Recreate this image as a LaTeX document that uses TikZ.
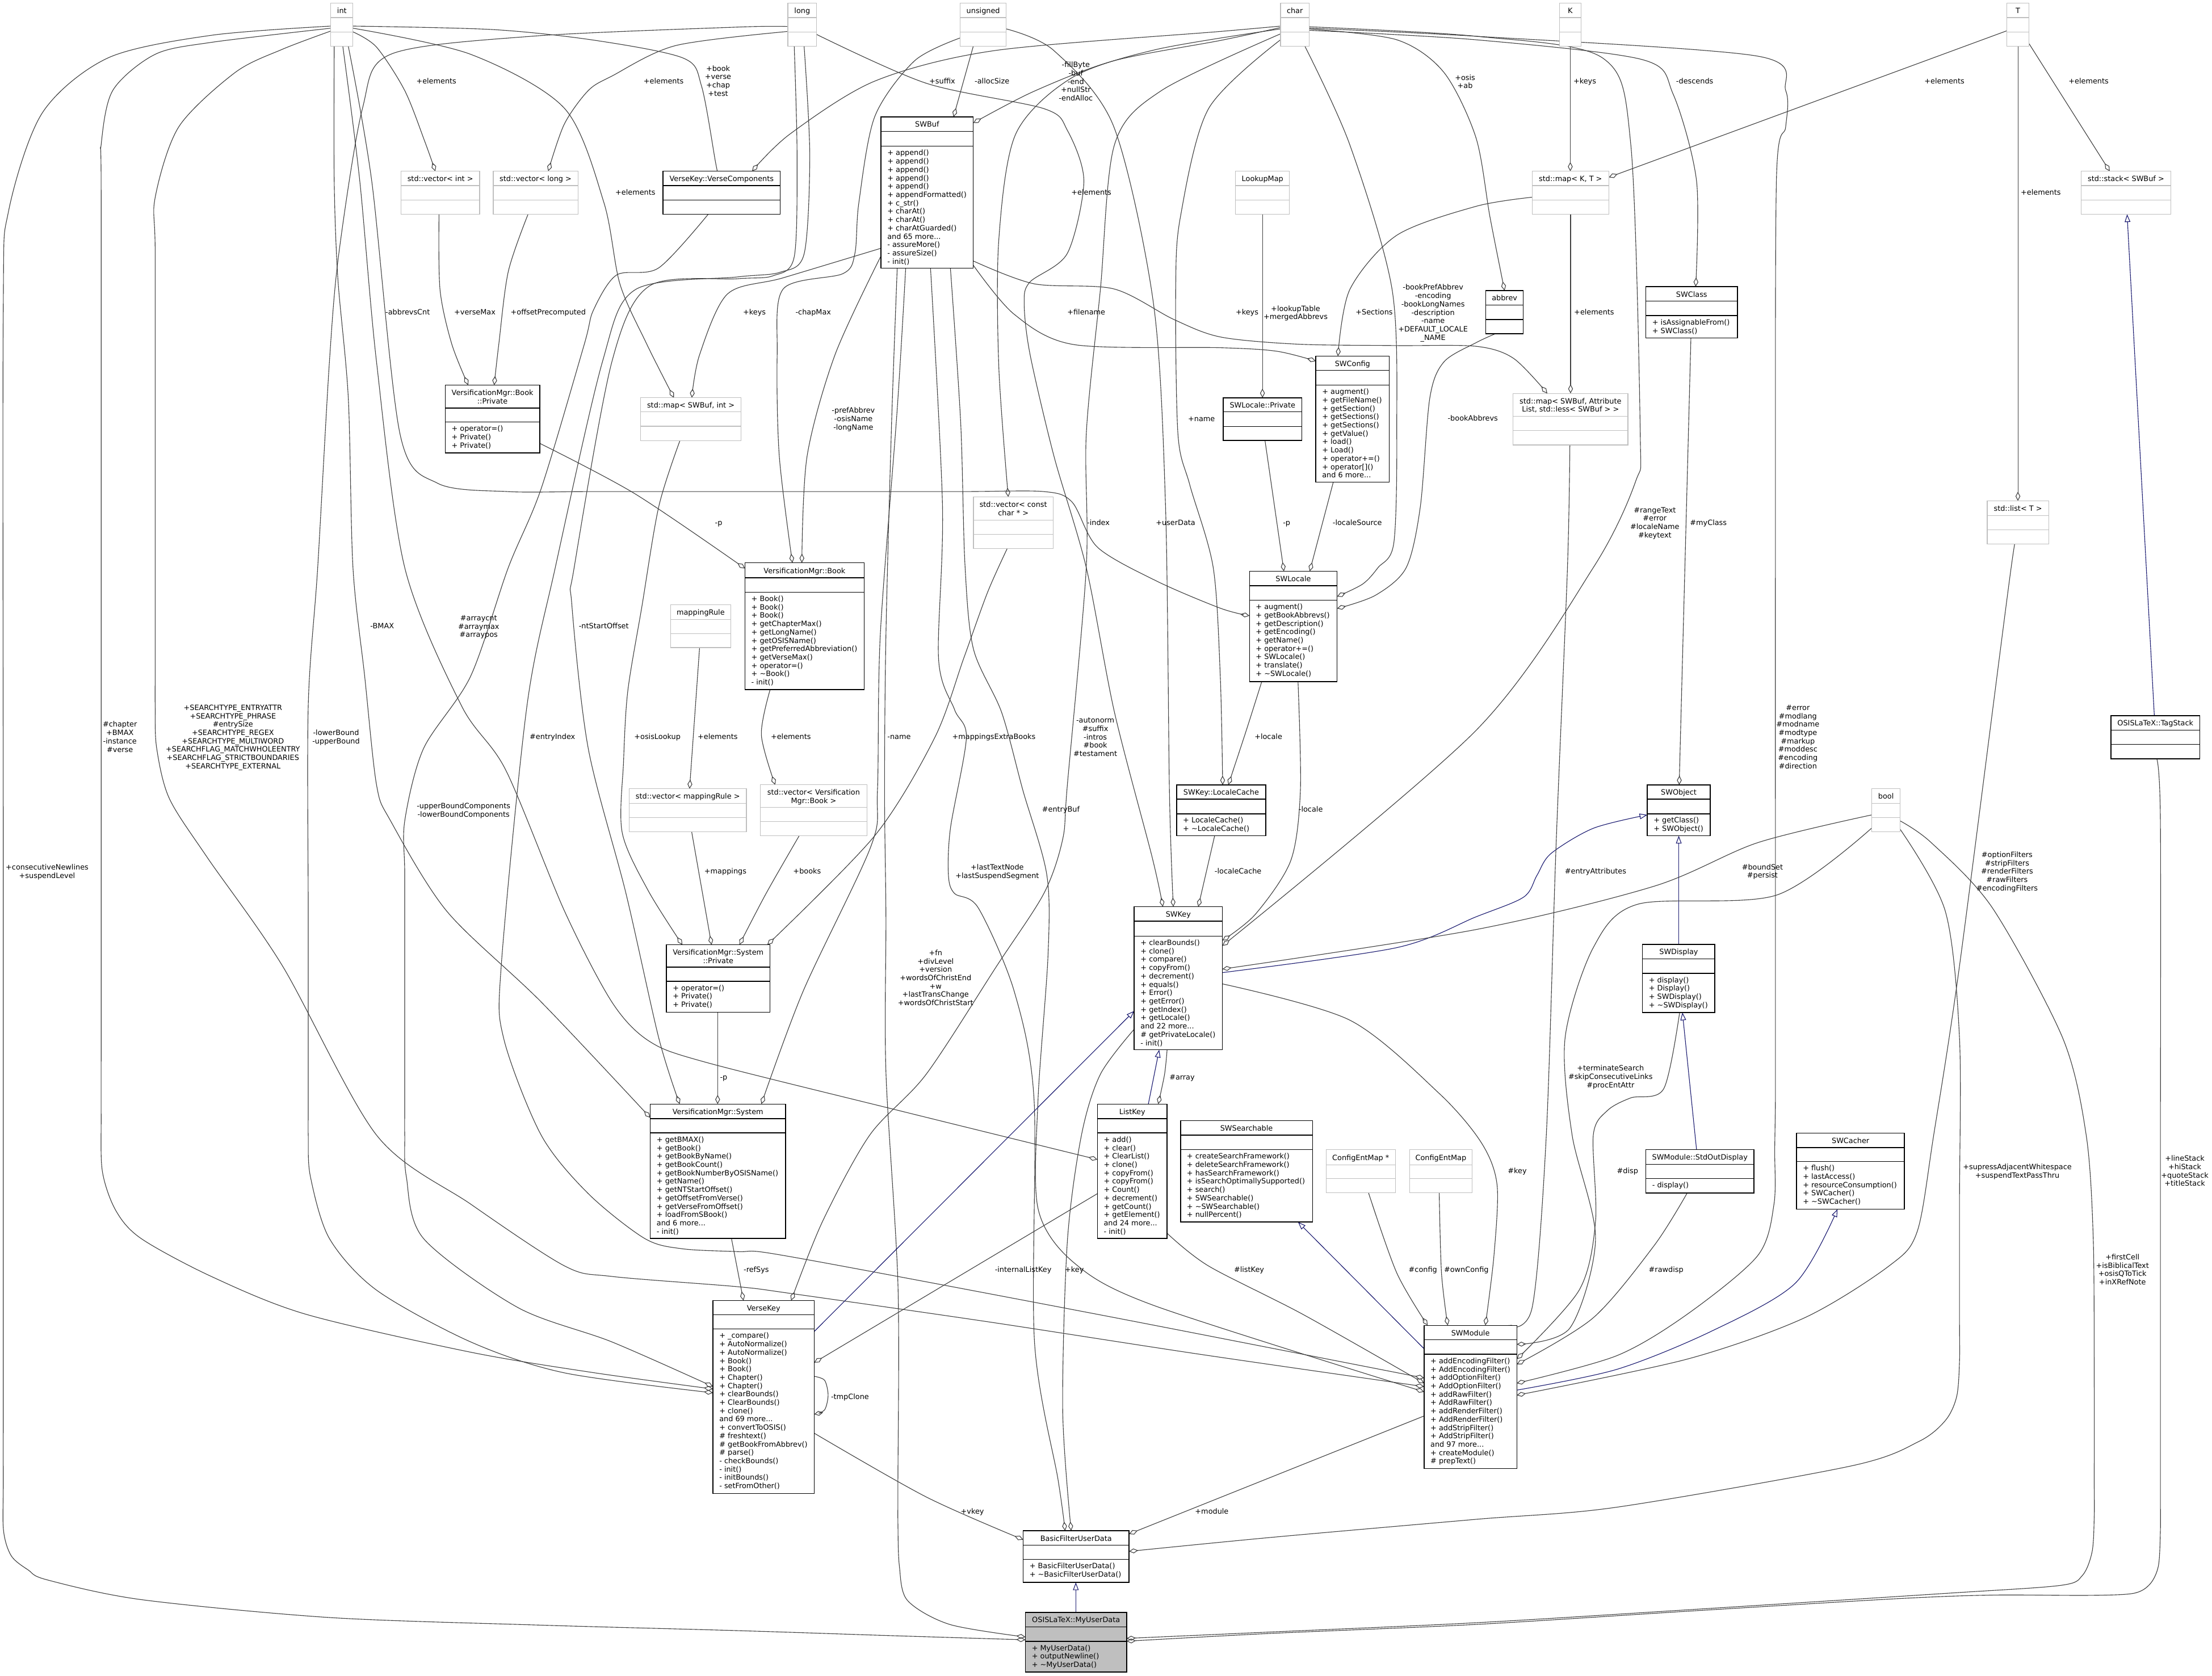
\documentclass[tikz,border=0pt]{standalone}
\usepackage{fontspec}
\setmainfont{DejaVu Sans}
\usetikzlibrary{arrows.meta}
\definecolor{edgec}{HTML}{404040}
\definecolor{inhc}{HTML}{191970}
\definecolor{grayb}{HTML}{BFBFBF}
\newcommand\dfont{\fontsize{5.17pt}{5.92pt}\selectfont}
\newcommand\strt{\vrule width0pt height4.5pt depth0pt\relax}
\pgfdeclarelayer{edges}
\pgfsetlayers{edges,main}
\tikzset{
  grayc/.style={draw=grayb, line width=0.5pt, fill=white, inner sep=0pt, outer sep=0pt},
  blackc/.style={draw=black, line width=0.6pt, fill=white, inner sep=0pt, outer sep=0pt},
  filledc/.style={draw=black, line width=0.6pt, fill=grayb, inner sep=0pt, outer sep=0pt},
  grayc line/.style={draw=grayb, line width=0.5pt},
  blackc line/.style={draw=black, line width=0.6pt},
  filledc line/.style={draw=black, line width=0.6pt},
  ttl/.style={font=\dfont, inner sep=0pt, align=center},
  mth/.style={font=\dfont, inner sep=0pt, align=left},
  lbl/.style={font=\dfont, inner sep=0pt, align=center},
  edge/.style={draw=edgec, line width=0.45pt},
  agg/.style={edge, -{Diamond[open, length=6.5pt, width=3.4pt, line width=0.45pt]}},
  inh/.style={draw=inhc, line width=0.45pt, -{Triangle[open, length=5.5pt, width=4pt, line width=0.45pt]}},
  every plot/.style={smooth, tension=0.5},
}
\makeatletter
\def\ub@parse#1/#2/#3/#4/#5/#6/#7\relax{\def\ubxa{#1}\def\ubya{#2}\def\ubxb{#3}\def\ubsa{#4}\def\ubsb{#5}\def\ubyb{#6}\def\ubn{#7}}
\newcommand\ubox[5]{%
  \ub@parse#3\relax
  \pgfmathsetmacro\ubw{\ubxb-\ubxa}%
  \pgfmathsetmacro\ubh{\ubyb-\ubya}%
  \pgfmathsetmacro\ubcx{(\ubxa+\ubxb)/2}%
  \pgfmathsetmacro\ubty{(\ubya+\ubsa)/2-2.6-(\ubn-1)*2.96}%
  \pgfmathsetmacro\ubmy{\ubsb+1.8}%
  \pgfmathsetmacro\ubmx{\ubxa+4.3}%
  \node[#1, anchor=north west, minimum width=\ubw pt, minimum height=\ubh pt] (#2) at (\ubxa,\ubya) {};
  \draw[#1 line] (\ubxa,\ubsa) -- (\ubxb,\ubsa) (\ubxa,\ubsb) -- (\ubxb,\ubsb);
  \node[ttl, anchor=north] (#2-t) at (\ubcx,\ubty) {\strt #4};
  \node[mth, anchor=north west] (#2-m) at (\ubmx,\ubmy) {\strt #5};
}
\makeatother
\newcommand\lab[4]{\node[lbl, anchor=north] (#1) at (#2,{#3-2.6}) {\strt #4};}
\begin{document}
\begin{tikzpicture}[x=1pt,y=-1pt]
\useasboundingbox (0,0) rectangle (1568,1188);
% ---------- boxes ----------
\ubox{grayc}{int}{234.5/2.3/250.2/12.5/22.6/32.8/1}{int}{}
\ubox{grayc}{long}{558.5/2.3/578.8/12.5/22.6/32.8/1}{long}{}
\ubox{grayc}{unsigned}{680.6/2.3/713.3/12.5/22.6/32.8/1}{unsigned}{}
\ubox{grayc}{char}{907.7/2.3/928/12.5/22.6/32.8/1}{char}{}
\ubox{grayc}{K}{1105.4/2.3/1120.8/12.5/22.6/32.8/1}{K}{}
\ubox{grayc}{T}{1422.6/2.3/1438.2/12.5/22.6/32.8/1}{T}{}
\ubox{grayc}{vint}{284.2/121.4/340/131.6/141.9/151.9/1}{std::vector< int >}{}
\ubox{grayc}{vlong}{349.6/121.4/409.7/131.6/141.9/151.9/1}{std::vector< long >}{}
\ubox{blackc}{vcomp}{470/121.4/553.1/131.6/141.9/151.9/1}{VerseKey::VerseComponents}{}
\ubox{grayc}{lookup}{875.8/121.4/914.1/131.6/141.9/151.9/1}{LookupMap}{}
\ubox{grayc}{mapKT}{1086.1/121.4/1140.4/131.6/141.9/151.9/1}{std::map< K, T >}{}
\ubox{grayc}{stack}{1475.2/121.4/1538.8/131.6/141.9/151.9/1}{std::stack< SWBuf >}{}
\ubox{blackc}{swbuf}{624.5/82.9/689.9/93.1/103.7/190.1/1}{SWBuf}{+ append()\\+ append()\\+ append()\\+ append()\\+ append()\\+ appendFormatted()\\+ c\_str()\\+ charAt()\\+ charAt()\\+ charAtGuarded()\\and 65 more...\\- assureMore()\\- assureSize()\\- init()}
\ubox{blackc}{abbrev}{1053.2/206/1079.8/216.3/226.6/236.6/1}{abbrev}{}
\ubox{blackc}{swclass}{1166.7/203.2/1231.6/213.5/223.8/239.7/1}{SWClass}{+ isAssignableFrom()\\+ SWClass()}
\ubox{blackc}{swconfig}{932.7/252.5/984.8/262.5/273/341.8/1}{SWConfig}{+ augment()\\+ getFileName()\\+ getSection()\\+ getSections()\\+ getSections()\\+ getValue()\\+ load()\\+ Load()\\+ operator+=()\\+ operator[]()\\and 6 more...}
\ubox{blackc}{bookpriv}{315.6/273/382.6/289.2/299.2/321/2}{VersificationMgr::Book\\::Private}{+ operator=()\\+ Private()\\+ Private()}
\ubox{grayc}{mapSI}{454/282/525.4/292/302.2/312.3/1}{std::map< SWBuf, int >}{}
\ubox{blackc}{locpriv}{867.1/282/922.8/292/302.3/312.3/1}{SWLocale::Private}{}
\ubox{grayc}{mapAttr}{1072.5/278.9/1154/295.1/305.3/315.4/2}{std::map< SWBuf, Attribute\\List, std::less< SWBuf > >}{}
\ubox{grayc}{vcchar}{690/352.3/746.6/368.7/378.7/388.8/2}{std::vector< const\\char * >}{}
\ubox{grayc}{listT}{1408.6/355.1/1452.2/365.4/375.7/385.7/1}{std::list< T >}{}
\ubox{blackc}{book}{528.1/399/612.5/409.6/419.8/488.9/1}{VersificationMgr::Book}{+ Book()\\+ Book()\\+ Book()\\+ getChapterMax()\\+ getLongName()\\+ getOSISName()\\+ getPreferredAbbreviation()\\+ getVerseMax()\\+ operator=()\\+ \textasciitilde{}Book()\\- init()}
\ubox{blackc}{swlocale}{885.7/405/947.8/415.2/425.5/483.2/1}{SWLocale}{+ augment()\\+ getBookAbbrevs()\\+ getDescription()\\+ getEncoding()\\+ getName()\\+ operator+=()\\+ SWLocale()\\+ translate()\\+ \textasciitilde{}SWLocale()}
\ubox{grayc}{maprule}{475.3/428.8/518/439.1/449.1/459.1/1}{mappingRule}{}
\ubox{blackc}{tagstack}{1496.4/507.4/1559.3/517.6/527.6/537.9/1}{OSISLaTeX::TagStack}{}
\ubox{grayc}{vbook}{539/556.4/614.5/572.5/582.5/592.5/2}{std::vector< Versification\\Mgr::Book >}{}
\ubox{blackc}{loccache}{834.1/556.4/897.2/566.6/576.9/592.5/1}{SWKey::LocaleCache}{+ LocaleCache()\\+ \textasciitilde{}LocaleCache()}
\ubox{blackc}{swobject}{1167.7/556.4/1212.3/566.6/576.9/592.5/1}{SWObject}{+ getClass()\\+ SWObject()}
\ubox{grayc}{bool}{1326.8/559.2/1347/569.4/579.5/589.7/1}{bool}{}
\ubox{grayc}{vrule}{446/559.2/529.1/569.4/579.5/589.7/1}{std::vector< mappingRule >}{}
\ubox{blackc}{swkey}{804/642.8/866.5/653.1/663.6/744.2/1}{SWKey}{+ clearBounds()\\+ clone()\\+ compare()\\+ copyFrom()\\+ decrement()\\+ equals()\\+ Error()\\+ getError()\\+ getIndex()\\+ getLocale()\\and 22 more...\\\# getPrivateLocale()\\- init()}
\ubox{blackc}{syspriv}{472.4/669.8/545.8/685.7/695.7/717.5/2}{VersificationMgr::System\\::Private}{+ operator=()\\+ Private()\\+ Private()}
\ubox{blackc}{swdisplay}{1164.3/669.5/1215.6/679.8/690/717.8/1}{SWDisplay}{+ display()\\+ Display()\\+ SWDisplay()\\+ \textasciitilde{}SWDisplay()}
\ubox{blackc}{system}{461/782.7/556.8/793/803.2/878/1}{VersificationMgr::System}{+ getBMAX()\\+ getBook()\\+ getBookByName()\\+ getBookCount()\\+ getBookNumberByOSISName()\\+ getName()\\+ getNTStartOffset()\\+ getOffsetFromVerse()\\+ getVerseFromOffset()\\+ loadFromSBook()\\and 6 more...\\- init()}
\ubox{blackc}{listkey}{777.9/782.7/827.3/793/803.2/878/1}{ListKey}{+ add()\\+ clear()\\+ ClearList()\\+ clone()\\+ copyFrom()\\+ copyFrom()\\+ Count()\\+ decrement()\\+ getCount()\\+ getElement()\\and 24 more...\\- init()}
\ubox{blackc}{swsearch}{836.8/794.5/930.4/804.7/815/866.3/1}{SWSearchable}{+ createSearchFramework()\\+ deleteSearchFramework()\\+ hasSearchFramework()\\+ isSearchOptimallySupported()\\+ search()\\+ SWSearchable()\\+ \textasciitilde{}SWSearchable()\\+ nullPercent()}
\ubox{blackc}{swcacher}{1273.5/803.3/1350/813.5/823.5/857.2/1}{SWCacher}{+ flush()\\+ lastAccess()\\+ resourceConsumption()\\+ SWCacher()\\+ \textasciitilde{}SWCacher()}
\ubox{grayc}{cemp}{940/815/989.1/825.7/835.5/845.7/1}{ConfigEntMap *}{}
\ubox{grayc}{cem}{999.2/815/1043.5/825.7/835.5/845.7/1}{ConfigEntMap}{}
\ubox{blackc}{stdout}{1166.7/815/1243.2/825.5/835.5/845.7/1}{SWModule::StdOutDisplay}{- display()}
\ubox{blackc}{versekey}{505.4/922/577.1/932/942.2/1058.8/1}{VerseKey}{+ \_compare()\\+ AutoNormalize()\\+ AutoNormalize()\\+ Book()\\+ Book()\\+ Chapter()\\+ Chapter()\\+ clearBounds()\\+ ClearBounds()\\+ clone()\\and 69 more...\\+ convertToOSIS()\\\# freshtext()\\\# getBookFromAbbrev()\\\# parse()\\- checkBounds()\\- init()\\- initBounds()\\- setFromOther()}
\ubox{blackc}{swmodule}{1009.5/939.6/1075.2/949.8/960.1/1041/1}{SWModule}{+ addEncodingFilter()\\+ AddEncodingFilter()\\+ addOptionFilter()\\+ AddOptionFilter()\\+ addRawFilter()\\+ AddRawFilter()\\+ addRenderFilter()\\+ AddRenderFilter()\\+ addStripFilter()\\+ AddStripFilter()\\and 97 more...\\+ createModule()\\\# prepText()}
\ubox{blackc}{bfud}{725.3/1085.2/800.3/1095.4/1105.4/1121.8/1}{BasicFilterUserData}{+ BasicFilterUserData()\\+ \textasciitilde{}BasicFilterUserData()}
\ubox{filledc}{myud}{726.9/1143.1/798.6/1153.3/1163.6/1185.3/1}{OSISLaTeX::MyUserData}{+ MyUserData()\\+ outputNewline()\\+ \textasciitilde{}MyUserData()}
% ---------- edges ----------
\begin{pgfonlayer}{edges}
\fill[white] (0,0) rectangle (1568,1188);
% int
\draw[agg] plot coordinates {(int.west |- 0,18.5) (150,25) (76.7,41) (30,80) (6,150) (2.3,220) (2.3,600) (2.3,950) (2.3,1050) (2.5,1085) (8,1103) (20,1113) (33.4,1120) (100,1134) (233.5,1146.7) (380,1152) (523,1156) (630,1159.5) (myud.west |- 0,1162.5)};
\draw[agg] plot coordinates {(int.west |- 0,20) (150,30) (110,38.5) (80,64) (71.7,102.6) (71.7,140) (71.7,500) (71.7,740) (71.7,790) (72.5,830) (82,858) (100,878) (150,905) (216.8,931.7) (333.6,958.6) (420,973) (versekey.west |- 0,984.7)};
\draw[agg] plot coordinates {(int.west |- 0,22) (200,35) (166.8,51.3) (126.8,89.8) (110,140) (110,180) (110,340) (110,470) (110,500) (111,530) (120,566) (146.8,607.7) (200.2,684.7) (266.9,804.7) (333.6,853.6) (400.3,897.5) (433.7,904.9) (523.1,912.2) (561.5,917.1) (700,937) (850,960) (swmodule.west |- 0,983)};
\draw[agg] plot coordinates {(int.east |- 0,22.6) (266.9,33.4) (286.9,64.2) (301,100) (vint.north -| 308.6,0)};
\draw[agg] plot coordinates {(int.east |- 0,18.5) (350,21) (422.5,28.7) (484.6,41.3) (497.3,61.1) (507.2,115) (vcomp.north -| 508.7,0)};
\draw[agg] plot coordinates {(int.east |- 0,20) (333.6,38.5) (400.3,77) (428.1,143.7) (439.4,201.2) (458,243) (mapSI.north -| 477.7,0)};
\draw[agg] plot coordinates {(int.south -| 246.9,0) (263.5,128.3) (283.6,307.9) (310.2,342.6) (360,348.5) (420,348.5) (550,348.5) (680,348.5) (740,348.5) (760,356) (778,388) (820,412) (865.1,431.2) (swlocale.west |- 0,436.5)};
\draw[agg] plot coordinates {(int.south -| 236.9,0) (236.9,128.3) (239.5,197.6) (246.9,282.3) (250.2,402.4) (258.5,479.4) (266.9,556.4) (276.9,582) (316.9,646.2) (383.6,710.3) (system.west |- 0,792.4)};
\draw[agg] plot coordinates {(int.south -| 243,0) (255,128) (266.9,256.6) (286.9,402.4) (326.9,499.9) (358.6,546.1) (400.3,646.2) (433.7,710.3) (460,738) (500,753) (640,788) (listkey.west |- 0,822)};
% long
\draw[agg] plot coordinates {(long.west |- 0,22.3) (479,32.3) (433.8,53.9) (417,64.2) (400,88) (vlong.north -| 388.6,0)};
\draw[agg] plot coordinates {(long.west |- 0,18.8) (523,19.2) (377,25.7) (276.9,38.5) (256.9,77) (240.2,179.6) (233.5,256.6) (225.2,402.4) (218.5,500) (218.5,650) (218.5,780) (218.5,805) (220,834) (233.5,878) (266.9,914.6) (333.6,951.3) (400.3,973.3) (versekey.west |- 0,987.4)};
\draw[agg] plot coordinates {(long.east |- 0,24.4) (656.5,59) (739.9,77) (756.6,92.4) (768.3,128.3) (756.6,179.6) (729.9,200.1) (726,215.6) (730.2,251.5) (747.1,323.4) (770,402.4) (790,505) (816.7,607.7) (swkey.north -| 824.3,0)};
\draw[agg] plot coordinates {(long.south -| 563,0) (565,110) (563,182) (548,195.5) (523,197.6) (460.4,202.7) (433.7,256.6) (407,402.4) (405.3,428.1) (417,530.7) (443.7,633.3) (467,736) (system.north -| 481.8,0)};
\draw[agg] plot coordinates {(long.south -| 570,0) (574,110) (570,180) (553,193) (523,196.3) (450.4,205.3) (427,256.6) (393.6,402.4) (373.6,499.9) (355.3,684.7) (357,736) (383.6,804.7) (417,846.2) (457,878) (483.7,885.3) (523.1,887.3) (543,888) (623,902.4) (800,936) (swmodule.west |- 0,976.9)};
% unsigned
\draw[agg] (unsigned.south -| 689.9,0) -- (swbuf.north -| 675.9,0);
\draw[agg] plot coordinates {(unsigned.east |- 0,20.5) (747.1,35.9) (789.5,89.8) (817.7,215.6) (826.2,359.3) (829,563.4) (swkey.north -| 831.7,0)};
\draw[agg] plot coordinates {(unsigned.west |- 0,26.9) (648.3,43.1) (620.1,82.6) (608.8,143.7) (606,179.6) (597.5,194) (555.2,204.8) (550.9,251.5) (552.4,323.4) (book.north -| 561.7,0)};
% char
\draw[agg] plot coordinates {(char.west |- 0,18.5) (865,22.3) (704.8,35.9) (620.1,57.5) (560,95) (vcomp.north -| 533.1,0)};
\draw[agg] plot coordinates {(char.west |- 0,19.5) (865,28.7) (789.5,43.1) (733,64.7) (swbuf.east |- 0,87.2)};
\draw[agg] plot coordinates {(char.west |- 0,20.5) (820,35) (760,55) (720,95) (708,170) (708,260) (vcchar.north -| 714.7,0)};
\draw[agg] plot coordinates {(char.east |- 0,19) (1046.2,25.7) (1136,41.1) (1156,102.6) (1162.7,307.9) (1159.4,341.3) (1129.4,402.4) (1046.2,517.9) (swkey.east |- 0,670.5)};
\draw[agg] plot coordinates {(char.west |- 0,28.2) (856.7,77) (836.7,154) (833.4,205.3) (835,307.9) (843.4,343.8) (860,402.4) (865,479.4) (loccache.north -| 866.7,0)};
\draw[agg] plot coordinates {(char.south -| 925,0) (956.8,102.6) (986.8,205.3) (990.1,307.9) (988,385) (976.8,402.4) (966,414) (swlocale.east |- 0,422.9)};
\draw[agg] plot coordinates {(abbrev.south -| 1060,0) (1046.2,243) (1023.5,256.6) (1013.5,282.3) (1006.8,359.2) (996.8,402.4) (975,422) (swlocale.east |- 0,431.4)};
\draw[agg] plot coordinates {(char.east |- 0,20.5) (990.1,28.2) (1023.5,51.3) (1046.2,97.5) (1056.2,154) (abbrev.north -| 1066.5,0)};
\draw[agg] plot coordinates {(char.east |- 0,21.5) (1046.2,28.2) (1164.3,42.3) (1186,66.7) (1202.6,128.3) (swclass.north -| 1202,0)};
\draw[agg] plot coordinates {(char.east |- 0,20) (1046.2,25.7) (1245.9,39.8) (1265.8,64.2) (1265.8,89.8) (1259.2,128.3) (1258.5,402.4) (1258.5,600) (1258.5,740) (1258.5,780) (1258,815) (1257.5,853.6) (1245.9,890.2) (1196,931.7) (1146,961.1) (swmodule.east |- 0,980.6)};
\draw[agg] plot coordinates {(char.west |- 0,24) (823.3,64.2) (790,102.6) (780,205.3) (770,307.9) (770,402.4) (756.6,556.4) (753.3,594.9) (740,633.3) (706.6,684.7) (656.5,761.6) (616.5,804.7) (583.1,865.8) (versekey.north -| 560.8,0)};
% SWBuf
\draw[agg] plot coordinates {(swbuf.south -| 636,0) (632,300) (628,450) (627,560) (628,650) (628,760) (636.5,910) (636.5,1050) (636.5,1080) (637.5,1110) (643.2,1134.5) (673.2,1151.6) (myud.west |- 0,1160.5)};
\draw[agg] plot coordinates {(swbuf.south -| 642,0) (636,290) (624,450) (622,560) (617.3,600.1) (569.3,702.7) (system.north -| 539.7,0)};
\draw[agg] plot coordinates {(swbuf.south -| 659.6,0) (668.1,359.3) (665.3,467.1) (676.6,503) (685,523.1) (673.7,587.3) (672.3,620.6) (676.6,633.4) (693.5,643.7) (718.9,702.7) (733,779.7) (733.3,951.3) (750,1049) (bfud.north -| 755,0)};
\draw[agg] plot coordinates {(swbuf.south -| 673.7,0) (681,300) (684,400) (690,460) (710,505) (725,560) (742,620) (742.9,677.1) (735.8,779.7) (735.8,856.7) (761.3,895.2) (817.7,925.4) (swmodule.west |- 0,986.7)};
\draw[agg] plot coordinates {(swbuf.east |- 0,188) (718.9,222.8) (761.3,244.3) (865.1,246.5) (905,249) (swconfig.west |- 0,256)};
\draw[agg] plot coordinates {(swbuf.east |- 0,185) (733,201.2) (789.5,204.8) (831.9,226.4) (865.1,238.9) (920,244) (990,245) (1046.2,245.5) (1072.8,254) (mapAttr.north -| 1096.8,0)};
\draw[agg] plot coordinates {(swbuf.west |- 0,176) (555,197) (515.7,208.4) (495.9,251.5) (mapSI.north -| 490.4,0)};
\draw[agg] plot coordinates {(swbuf.west |- 0,181.4) (591.9,251.5) (572.1,323.4) (book.north -| 568.4,0)};
% top misc
\draw[agg] (lookup.south -| 894.9,0) -- (locpriv.north -| 894.9,0);
\draw[agg] plot coordinates {(mapKT.west |- 0,139.8) (1046.2,146.3) (990.1,166.8) (956.8,205.3) (swconfig.north -| 948.4,0)};
\draw[agg] (mapKT.south -| 1113.3,0) -- (mapAttr.north -| 1113.3,0);
\draw[agg] (K.south -| 1113.1,0) -- (mapKT.north -| 1113.1,0);
\draw[agg] (T.west |- 0,21.8) -- (mapKT.east |- 0,125.7);
\draw[agg] (T.east |- 0,30.8) -- (stack.north -| 1495.5,0);
\draw[agg] (T.south -| 1430.4,0) -- (listT.north -| 1430.4,0);
\draw[inh] (tagstack.north -| 1527.1,0) -- (stack.south -| 1507.8,0);
\draw[agg] (swclass.south -| 1198.6,0) -- (swobject.north -| 1190.3,0);
\draw[inh] plot coordinates {(swkey.east |- 0,689.5) (990.1,671.8) (1046.2,650) (1080,636) (1089.5,620.5) (1099.4,605.1) (1129.4,587.2) (swobject.west |- 0,577.7)};
\draw[inh] (swdisplay.north -| 1190,0) -- (swobject.south -| 1190,0);
\draw[inh] (stdout.north -| 1202.6,0) -- (swdisplay.south -| 1192.6,0);
% bool, tagstack, list
\draw[agg] plot coordinates {(bool.west |- 0,577.7) (1245.9,597.4) (1172.7,628.2) (1046.2,659) (swkey.east |- 0,687)};
\draw[agg] plot coordinates {(bool.west |- 0,587) (1259.2,634.6) (1161,641) (1129.4,671.8) (1109.4,735.9) (1114.4,804.7) (1131,878) (1112.8,941.5) (swmodule.east |- 0,953)};
\draw[agg] plot coordinates {(bool.east |- 0,588) (1379,646.2) (1389,736) (1389,850) (1389,935) (1389,965) (1387,990) (1379,1007) (1360,1022) (1312.4,1039.2) (1146,1068.5) (1046.2,1077.1) (900,1090) (bfud.east |- 0,1099.8)};
\draw[agg] plot coordinates {(bool.east |- 0,582) (1369,597.4) (1412.3,643.6) (1462.2,736) (1478.8,804.7) (1483.8,878) (1484.5,980) (1484.5,1050) (1484.5,1075) (1483,1100) (1476,1117) (1460,1124) (1379,1129.6) (1200,1141) (1046.2,1150.4) (900,1157) (myud.east |- 0,1161.5)};
\draw[agg] plot coordinates {(tagstack.south -| 1528.8,0) (1531.4,582) (1531.4,830) (1531.4,1000) (1531.4,1060) (1531.4,1085) (1530,1110) (1524,1123) (1512.1,1129.6) (1480,1131) (1412.3,1130.8) (1345.7,1133.3) (1200,1142) (1046.2,1151.6) (900,1158) (myud.east |- 0,1163.5)};
\draw[agg] plot coordinates {(listT.south -| 1430,0) (1425.6,402.4) (1389,684.7) (1370.7,804.7) (1359,873.1) (1339,897.5) (1279.2,934.2) (1196,963.5) (swmodule.east |- 0,989.1)};
\draw[agg] plot coordinates {(mapAttr.south -| 1112.8,0) (1111.1,402.4) (1103,600) (1096.1,804.7) (1086.1,926.8) (swmodule.north -| 1068,0)};
% SWKey, SWLocale
\draw[agg] plot coordinates {(swkey.east |- 0,697.5) (956.8,723.2) (1020,775) (1050,810) (1061.2,840) (1059,890) (swmodule.north -| 1052.9,0)};
\draw[agg] plot coordinates {(swlocale.south -| 920.1,0) (921.8,560) (915,610) (890,648) (swkey.east |- 0,666.7)};
\draw[agg] plot coordinates {(swlocale.south -| 894.4,0) (883.4,517.9) (loccache.north -| 870.7,0)};
\draw[agg] (loccache.south -| 861,0) -- (swkey.north -| 849.4,0);
\draw[agg] (locpriv.south -| 896.7,0) -- (swlocale.north -| 910.1,0);
\draw[agg] (swconfig.south -| 945.1,0) -- (swlocale.north -| 928.4,0);
\draw[inh] (versekey.east |- 0,944) -- (swkey.west |- 0,716.7);
\draw[inh] (listkey.north -| 814,0) -- (swkey.south -| 821.7,0);
\draw[agg] plot coordinates {(swkey.south -| 827.3,0) (825.5,761.6) (listkey.north -| 821,0)};
\draw[agg] (listkey.west |- 0,846.2) -- (versekey.east |- 0,966);
\draw[agg] plot coordinates {(listkey.east |- 0,874.3) (856.7,897.5) (923.4,931.7) (swmodule.west |- 0,980.6)};
\draw[agg] plot coordinates {(swkey.west |- 0,729.6) (780,761.6) (766.6,804.7) (756.6,880) (753.3,1000) (bfud.north -| 759.3,0)};
% Versification
\draw[agg] (system.south -| 518.5,0) -- (versekey.north -| 527,0);
\draw[agg] plot coordinates {(versekey.east |- 0,975.7) (584.5,978.5) (587,989) (584.5,999.5) (versekey.east |- 0,1002.6)};
\draw[agg] plot coordinates {(vcchar.south -| 714,0) (700,420) (683.2,466.5) (662.5,523.1) (620.1,592.4) (syspriv.north -| 543.9,0)};
\draw[agg] plot coordinates {(vbook.south -| 566.5,0) (543.1,633.3) (syspriv.north -| 524.1,0)};
\draw[agg] (vrule.south -| 490.3,0) -- (syspriv.north -| 504.4,0);
\draw[agg] (maprule.south -| 495.9,0) -- (vrule.north -| 488.8,0);
\draw[agg] plot coordinates {(mapSI.south -| 482,0) (467,359) (455,430) (445,490) (442,540) (441,590) (459.2,630.9) (syspriv.north -| 483.7,0)};
\draw[agg] plot coordinates {(book.south -| 545.9,0) (539.7,521) (vbook.north -| 549.5,0)};
\draw[agg] plot coordinates {(bookpriv.east |- 0,314.3) (450,350) (book.west |- 0,403)};
\draw[agg] plot coordinates {(vint.south -| 311.2,0) (311.9,205.3) (320.2,243.8) (bookpriv.north -| 331.9,0)};
\draw[agg] plot coordinates {(vlong.south -| 374.3,0) (360.3,192.5) (353.6,243.8) (bookpriv.north -| 350.3,0)};
\draw[agg] (syspriv.south -| 508.7,0) -- (system.north -| 508.7,0);
\draw[agg] plot coordinates {(vcomp.south -| 502,0) (466.8,190) (437,195) (420.6,220) (413.9,245) (383.6,346.4) (360.3,402.4) (333.6,479.4) (300.2,530.7) (286.9,582) (286.9,620) (286.9,700) (286.9,780) (286.9,805) (288,834) (300.2,878) (367,926.9) (433.7,951.3) (versekey.west |- 0,983)};
% bottom
\draw[inh] (myud.north -| 762.6,0) -- (bfud.south -| 762.6,0);
\draw[agg] (swmodule.west |- 0,1003.8) -- (bfud.east |- 0,1087.5);
\draw[agg] plot coordinates {(versekey.east |- 0,1016) (656.5,1061.2) (bfud.west |- 0,1091.5)};
\draw[inh] (swmodule.west |- 0,956.2) -- (swsearch.south -| 920.1,0);
\draw[inh] plot coordinates {(swmodule.east |- 0,985.5) (1146,970.8) (1212.6,944) (1272.5,909.8) (swcacher.south -| 1302.5,0)};
\draw[agg] plot coordinates {(cemp.south -| 970.1,0) (990.1,902.4) (swmodule.north -| 1012,0)};
\draw[agg] plot coordinates {(cem.south -| 1020.2,0) (1021.8,902.4) (swmodule.north -| 1026.2,0)};
\draw[agg] plot coordinates {(swdisplay.south -| 1190.6,0) (1179.3,771.9) (1156,778.3) (1139.4,787.3) (1129.4,804.7) (1131,865.8) (1119.4,914.6) (swmodule.east |- 0,963.5)};
\draw[agg] plot coordinates {(stdout.south -| 1196,0) (1172.7,882.8) (1129.4,934.2) (swmodule.east |- 0,967.2)};
\end{pgfonlayer}
% ---------- labels ----------
\lab{l1}{309.3}{57.2}{+elements}
\lab{l2}{470.4}{57.2}{+elements}
\lab{l3}{509}{48.2}{+book\\+verse\\+chap\\+test}
\lab{l4}{667.9}{57.2}{+suffix}
\lab{l5}{703.2}{57.2}{-allocSize}
\lab{l6}{762.6}{45.7}{-fillByte\\-buf\\-end\\+nullStr\\-endAlloc}
\lab{l7}{1038.5}{54.7}{+osis\\+ab}
\lab{l8}{1123.4}{57.2}{+keys}
\lab{l9}{1201.3}{57.2}{-descends}
\lab{l10}{1378.3}{57.2}{+elements}
\lab{l11}{1480.5}{57.2}{+elements}
\lab{l12}{450.4}{136}{+elements}
\lab{l13}{773.6}{136}{+elements}
\lab{l14}{1446.6}{136}{+elements}
\lab{l15}{289}{221.2}{-abbrevsCnt}
\lab{l16}{336.6}{221.2}{+verseMax}
\lab{l17}{388.6}{221.2}{+offsetPrecomputed}
\lab{l18}{534.8}{221.2}{+keys}
\lab{l19}{576.5}{221.2}{-chapMax}
\lab{l20}{770}{221.2}{+filename}
\lab{l21}{884}{221.2}{+keys}
\lab{l22}{918.4}{218.4}{+lookupTable\\+mergedAbbrevs}
\lab{l23}{974.1}{221.2}{+Sections}
\lab{l24}{1015.8}{203.5}{-bookPrefAbbrev\\-encoding\\-bookLongNames\\-description\\-name\\+DEFAULT\_LOCALE\\\_NAME}
\lab{l25}{1130}{221.2}{+elements}
\lab{l26}{604.9}{290.7}{-prefAbbrev\\-osisName\\-longName}
\lab{l27}{851.7}{296.6}{+name}
\lab{l28}{1044}{296.4}{-bookAbbrevs}
\lab{l29}{509.4}{370.3}{-p}
\lab{l30}{778.6}{370.3}{-index}
\lab{l31}{833.3}{370.3}{+userData}
\lab{l32}{912}{370.3}{-p}
\lab{l33}{962.1}{370.3}{-localeSource}
\lab{l34}{1173}{361.3}{\#rangeText\\\#error\\\#localeName\\\#keytext}
\lab{l35}{1211}{370.3}{\#myClass}
\lab{l36}{339.3}{437.8}{\#arraycnt\\\#arraymax\\\#arraypos}
\lab{l37}{270.9}{443.7}{-BMAX}
\lab{l38}{428}{443.7}{-ntStartOffset}
\lab{l39}{165.1}{501.4}{+SEARCHTYPE\_ENTRYATTR\\+SEARCHTYPE\_PHRASE\\\#entrySize\\+SEARCHTYPE\_REGEX\\+SEARCHTYPE\_MULTIWORD\\+SEARCHFLAG\_MATCHWHOLEENTRY\\+SEARCHFLAG\_STRICTBOUNDARIES\\+SEARCHTYPE\_EXTERNAL}
\lab{l40}{85}{513.3}{\#chapter\\+BMAX\\-instance\\\#verse}
\lab{l41}{238.2}{519.2}{-lowerBound\\-upperBound}
\lab{l42}{391.6}{522}{\#entryIndex}
\lab{l43}{466}{522}{+osisLookup}
\lab{l44}{508.7}{522}{+elements}
\lab{l45}{560.6}{522}{+elements}
\lab{l46}{637.3}{522}{-name}
\lab{l47}{704.5}{522}{+mappingsExtraBooks}
\lab{l48}{776.4}{510.4}{-autonorm\\\#suffix\\-intros\\\#book\\\#testament}
\lab{l49}{899.1}{522}{+locale}
\lab{l50}{1274.4}{501.4}{\#error\\\#modlang\\\#modname\\\#modtype\\\#markup\\\#moddesc\\\#encoding\\\#direction}
\lab{l51}{328.6}{571.2}{-upperBoundComponents\\-lowerBoundComponents}
\lab{l52}{752}{573.5}{\#entryBuf}
\lab{l53}{929.1}{573.5}{-locale}
\lab{l54}{33.4}{614.6}{+consecutiveNewlines\\+suspendLevel}
\lab{l55}{514.2}{617.3}{+mappings}
\lab{l56}{572.1}{617.3}{+books}
\lab{l57}{706.9}{614.6}{+lastTextNode\\+lastSuspendSegment}
\lab{l58}{877.6}{617.4}{-localeCache}
\lab{l59}{1131}{617.4}{\#entryAttributes}
\lab{l60}{1249.3}{614.4}{\#boundSet\\\#persist}
\lab{l61}{1422.7}{605.6}{\#optionFilters\\\#stripFilters\\\#renderFilters\\\#rawFilters\\\#encodingFilters}
\lab{l62}{663.2}{675.2}{+fn\\+divLevel\\+version\\+wordsOfChristEnd\\+w\\+lastTransChange\\+wordsOfChristStart}
\lab{l63}{513}{763.2}{-p}
\lab{l64}{837.9}{763.2}{\#array}
\lab{l65}{1141.6}{757}{+terminateSearch\\\#skipConsecutiveLinks\\\#procEntAttr}
\lab{l66}{1430}{826.9}{+supressAdjacentWhitespace\\+suspendTextPassThru}
\lab{l67}{1548.7}{821}{+lineStack\\+hiStack\\+quoteStack\\+titleStack}
\lab{l68}{1075.5}{829.9}{\#key}
\lab{l69}{1153.7}{829.9}{\#disp}
\lab{l70}{1504.5}{890.9}{+firstCell\\+isBiblicalText\\+osisQToTick\\+inXRefNote}
\lab{l71}{536.1}{899.7}{-refSys}
\lab{l72}{725.3}{899.7}{-internalListKey}
\lab{l73}{761.6}{899.7}{+key}
\lab{l74}{885.4}{899.7}{\#listKey}
\lab{l75}{1008.6}{899.7}{\#config}
\lab{l76}{1039.4}{899.7}{\#ownConfig}
\lab{l77}{1181}{899.7}{\#rawdisp}
\lab{l78}{602.5}{990.1}{-tmpClone}
\lab{l79}{689.3}{1071.2}{+vkey}
\lab{l80}{859}{1071.2}{+module}
\end{tikzpicture}
\end{document}
